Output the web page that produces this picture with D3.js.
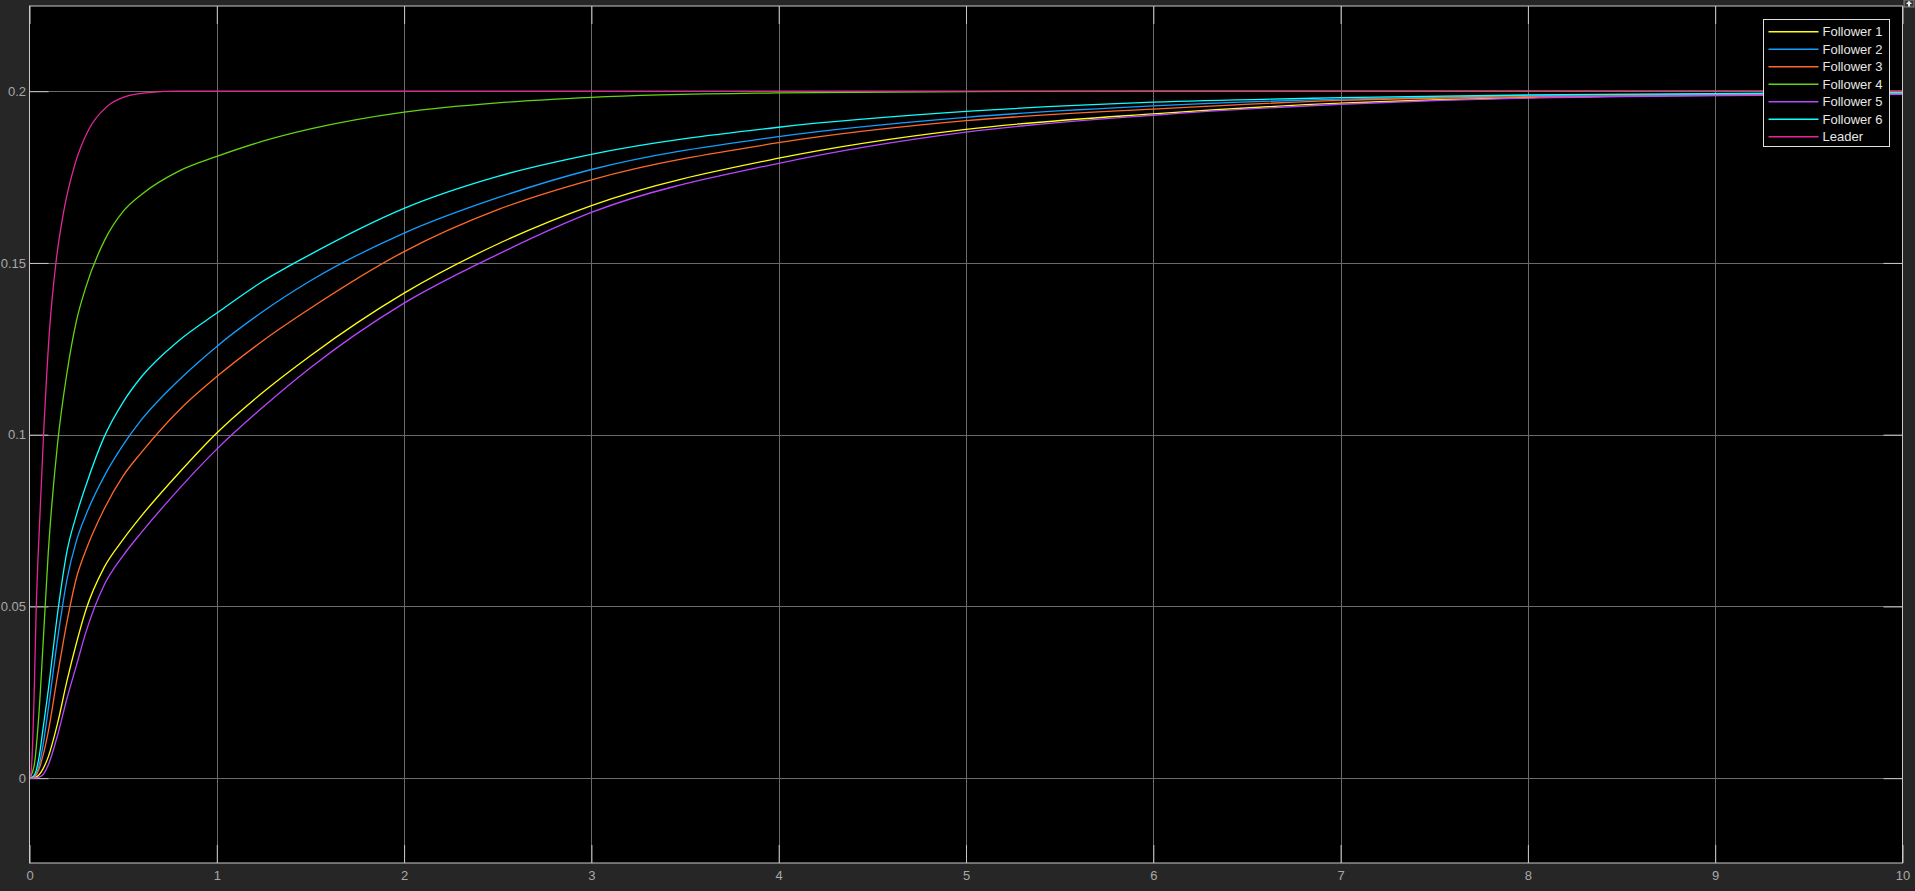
<!DOCTYPE html>
<html>
<head>
<meta charset="utf-8">
<script src="https://cdn.jsdelivr.net/npm/d3@7"></script>
<style>
  body { margin: 0; background: #262626; overflow: hidden; }
  svg { display: block; }
  text { font-family: "Liberation Sans", Arial, sans-serif; }
</style>
</head>
<body>
<div id="scope"></div>
<script>
// Sample times (s) shared by the followers
var time = [0, 0.025, 0.05, 0.075, 0.1, 0.15, 0.2, 0.25, 0.3, 0.4, 0.5, 0.6, 0.8, 1, 1.25, 1.5, 2, 2.5, 3, 4, 5, 6, 7, 8, 10];
var follower1 = [0,0.0001,0.0009,0.0030,0.0062,0.0160,0.0283,0.0392,0.0488,0.0615,0.0695,0.0765,0.0890,0.1005,0.1125,0.1230,0.1412,0.1555,0.1667,0.1805,0.1889,0.1934,0.1965,0.1981,0.1992];
var follower2 = [0,0.0005,0.0035,0.0105,0.0200,0.0405,0.0578,0.0690,0.0765,0.0880,0.0970,0.1045,0.1160,0.1257,0.1360,0.1448,0.1587,0.1690,0.1772,0.1868,0.1924,0.1957,0.1977,0.1987,0.1995];
var follower3 = [0,0.0003,0.0025,0.0072,0.0135,0.0300,0.0455,0.0582,0.0662,0.0785,0.0880,0.0950,0.1072,0.1169,0.1275,0.1368,0.1533,0.1655,0.1742,0.1850,0.1914,0.1948,0.1973,0.1984,0.1994];
var follower4 = [0,0.0037,0.0185,0.0415,0.0655,0.0975,0.1180,0.1330,0.1428,0.1565,0.1650,0.1700,0.1768,0.1810,0.1855,0.1890,0.1939,0.1966,0.1982,0.1995,0.1999,0.2,0.2,0.2,0.2];
var follower5 = [0,0,0.0003,0.0012,0.0038,0.0125,0.0232,0.0327,0.0423,0.0564,0.0648,0.0717,0.0843,0.0958,0.1082,0.1195,0.1383,0.1525,0.1647,0.1790,0.1881,0.1930,0.1962,0.1980,0.1991];
var follower6 = [0,0.0008,0.0058,0.0155,0.0255,0.0480,0.0660,0.0765,0.0850,0.0995,0.1095,0.1170,0.1275,0.1354,0.1448,0.1525,0.1659,0.1752,0.1816,0.1895,0.1941,0.1968,0.1981,0.1989,0.1996];

// Leader rises much faster, so it gets its own denser sample times
var leaderTime = [0, 0.005, 0.013, 0.025, 0.036, 0.045, 0.075, 0.107, 0.141, 0.181, 0.244, 0.315, 0.413, 0.511, 0.635, 0.8, 10];
var leaderValues = [0,0.0005,0.0053,0.0247,0.05,0.0636,0.1,0.1305,0.15,0.1645,0.179,0.1887,0.1955,0.1984,0.1996,0.2,0.2];

var seriesNames = ["Follower 1", "Follower 2", "Follower 3", "Follower 4", "Follower 5", "Follower 6", "Leader"];
var seriesColors = ["#ffff11", "#139fff", "#ff6929", "#64d413", "#b746ff", "#0fffff", "#e6259a"];

var xTicks = [0, 1, 2, 3, 4, 5, 6, 7, 8, 9, 10];
var yTicks = [0, 0.05, 0.1, 0.15, 0.2];

function zipSeries(ts, vs) {
    return ts.map(function(t, i) { return [t, vs[i]]; });
}
var seriesData = [follower1, follower2, follower3, follower4, follower5, follower6]
    .map(function(v) { return zipSeries(time, v); });
seriesData.push(zipSeries(leaderTime, leaderValues));

var width = 1915, height = 891;

var svg = d3.select("#scope")
    .append("svg")
    .attr("width", width)
    .attr("height", height);

// Scales - plot box sits at 29.5..1902.5 x 6..863
var x = d3.scaleLinear().domain([0, 10]).range([29.5, 1902.5]);
var y = d3.scaleLinear().domain([-0.0247, 0.2248]).range([863, 6]);

// Axes background
svg.append("rect")
    .attr("x", x(0)).attr("y", y(0.2248))
    .attr("width", x(10) - x(0)).attr("height", y(-0.0247) - y(0.2248))
    .style("fill", "#000");

// Grid lines
svg.append("g").selectAll("line")
    .data(xTicks.slice(1, -1))
    .enter().append("line")
    .attr("x1", function(d) { return Math.round(x(d)) + 0.5; })
    .attr("x2", function(d) { return Math.round(x(d)) + 0.5; })
    .attr("y1", y.range()[1]).attr("y2", y.range()[0])
    .style("stroke", "#6a6a6a").style("stroke-width", 1);

svg.append("g").selectAll("line")
    .data(yTicks)
    .enter().append("line")
    .attr("y1", function(d) { return Math.round(y(d)) + 0.5; })
    .attr("y2", function(d) { return Math.round(y(d)) + 0.5; })
    .attr("x1", x.range()[0]).attr("x2", x.range()[1])
    .style("stroke", "#6a6a6a").style("stroke-width", 1);

// Axes with inward ticks
var xAxis = svg.append("g")
    .attr("transform", "translate(0," + y.range()[0] + ")")
    .call(d3.axisBottom(x).tickValues(xTicks).tickSize(-18).tickPadding(8).tickFormat(function(d) { return String(d); }));
var xAxisTop = svg.append("g")
    .attr("transform", "translate(0," + y.range()[1] + ")")
    .call(d3.axisTop(x).tickValues(xTicks).tickSize(-18).tickFormat(""));
var yAxis = svg.append("g")
    .attr("transform", "translate(" + x.range()[0] + ",0)")
    .call(d3.axisLeft(y).tickValues(yTicks).tickSize(-19).tickPadding(3.5).tickFormat(function(d) { return String(d); }));
var yAxisRight = svg.append("g")
    .attr("transform", "translate(" + x.range()[1] + ",0)")
    .call(d3.axisRight(y).tickValues(yTicks).tickSize(-19).tickFormat(""));

[xAxis, xAxisTop, yAxis, yAxisRight].forEach(function(a) {
    a.select(".domain").remove();
    a.selectAll("line").style("stroke", "#c8c8c8");
    a.selectAll("text")
        .style("fill", "#a8a8a8")
        .style("font-size", "13px")
        .style("font-family", "'Liberation Sans', Arial, sans-serif");
});

// Traces
var line = d3.line()
    .x(function(d) { return x(d[0]); })
    .y(function(d) { return y(d[1]); })
    .curve(d3.curveMonotoneX);

svg.append("g").selectAll("path")
    .data(seriesData)
    .enter().append("path")
    .attr("d", line)
    .style("fill", "none")
    .style("stroke", function(d, i) { return seriesColors[i]; })
    .style("stroke-width", 1.3);

// Box
svg.append("rect")
    .attr("x", x(0)).attr("y", y(0.2248))
    .attr("width", x(10) - x(0)).attr("height", y(-0.0247) - y(0.2248))
    .style("fill", "none")
    .style("stroke", "#c8c8c8")
    .style("stroke-width", 1);

// Legend
var legend = svg.append("g").attr("transform", "translate(1763.5,19.5)");
legend.append("rect")
    .attr("width", 126).attr("height", 127)
    .style("fill", "#000")
    .style("stroke", "#e0e0e0")
    .style("stroke-width", 1);

var rows = legend.selectAll("g.row")
    .data(seriesNames)
    .enter().append("g")
    .attr("class", "row")
    .attr("transform", function(d, i) { return "translate(0," + (12.2 + i * 17.5) + ")"; });
rows.append("line")
    .attr("x1", 5).attr("x2", 55)
    .style("stroke", function(d, i) { return seriesColors[i]; })
    .style("stroke-width", 1.5);
rows.append("text")
    .attr("x", 59)
    .attr("dy", "0.35em")
    .style("fill", "#e6e6e6")
    .style("font-size", "13px")
    .text(function(d) { return d; });

// little undock icon in the corner
svg.append("rect")
    .attr("x", 1904).attr("y", 0).attr("width", 10).attr("height", 7)
    .style("fill", "#3a3a3a").style("stroke", "#9a9a9a").style("stroke-width", 0.8);
svg.append("path")
    .attr("d", "M1909,0.8 L1912,4 L1910,4 L1910,6.5 L1908,6.5 L1908,4 L1906,4 Z")
    .style("fill", "#e8e8e8");
</script>
</body>
</html>
